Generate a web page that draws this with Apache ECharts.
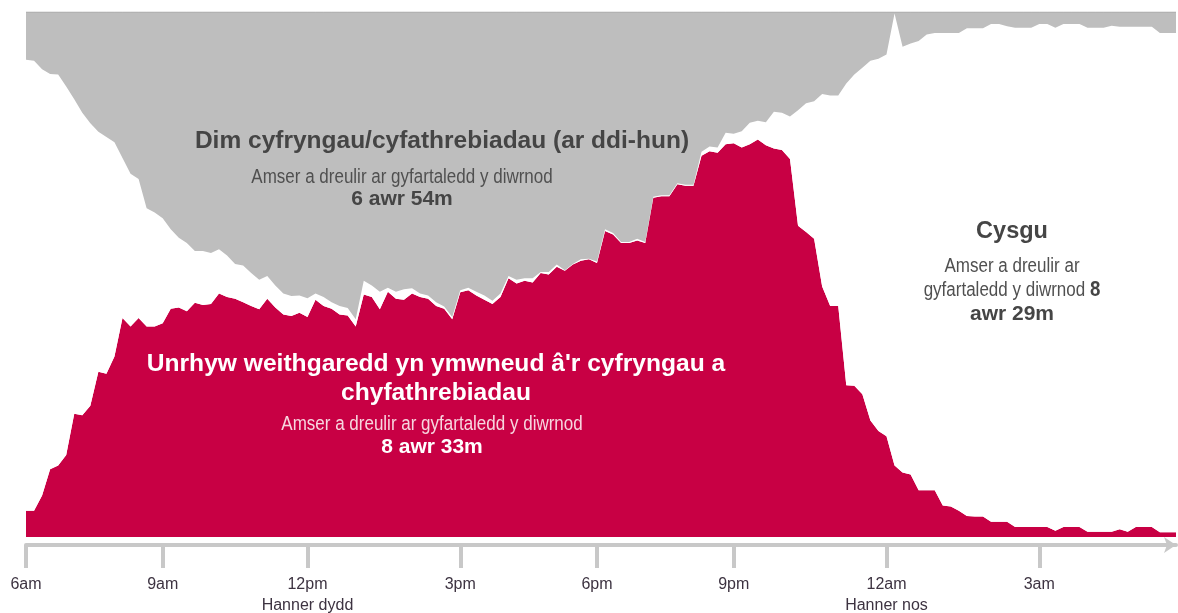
<!DOCTYPE html>
<html>
<head>
<meta charset="utf-8">
<title>Diwrnod cyfryngau</title>
<script src="https://cdn.jsdelivr.net/npm/echarts@6/dist/echarts.min.js"></script>
<style>
  html, body { margin: 0; padding: 0; background: #fff; }
  #chart { width: 1178px; height: 613px; }
</style>
</head>
<body>
<div id="chart"></div>
<script>
// share of people (%) in each 10-minute slot, starting 6am
let media = [
  5.0, 5.0, 7.9, 12.9, 13.6, 15.6, 23.5, 23.2, 25.0, 31.5, 31.1, 34.4,
  41.7, 40.1, 41.7, 40.1, 40.1, 40.7, 43.5, 43.7, 43.0, 44.6, 44.2, 44.4,
  46.4, 45.7, 45.4, 44.7, 44.0, 43.4, 45.4, 43.7, 42.4, 42.1, 42.7, 41.9,
  45.2, 44.0, 43.5, 42.4, 42.2, 40.1, 46.2, 45.7, 43.4, 46.7, 45.4, 45.2,
  46.4, 45.7, 45.4, 44.0, 43.5, 41.5, 46.6, 47.0, 46.0, 45.2, 44.4, 45.7,
  49.3, 48.3, 48.8, 48.5, 50.3, 50.0, 51.5, 50.7, 51.9, 52.6, 52.9, 52.2,
  58.3, 57.6, 56.0, 56.0, 56.5, 56.0, 64.6, 64.9, 64.9, 67.2, 66.9, 66.9,
  72.6, 73.5, 73.2, 74.8, 75.0, 74.2, 74.8, 75.7, 74.6, 74.0, 73.7, 72.0,
  59.3, 58.1, 56.8, 47.7, 44.0, 44.0, 28.9, 28.8, 27.2, 22.2, 20.2, 19.2,
  13.6, 12.3, 11.9, 8.9, 8.9, 8.9, 6.0, 5.8, 5.0, 4.0, 3.9, 3.9,
  2.9, 2.9, 2.9, 1.9, 1.9, 1.9, 1.9, 1.9, 1.2, 1.9, 1.9, 1.9,
  1.0, 1.0, 1.0, 1.0, 1.5, 1.0, 1.9, 1.9, 1.9, 0.9, 0.9, 0.9
];
let sleep = [
  85.9, 85.7, 81.2, 75.3, 74.5, 70.2, 59.9, 57.6, 53.8, 45.7, 45.1, 40.8,
  30.5, 29.1, 26.5, 22.5, 21.7, 20.0, 15.1, 13.3, 13.0, 9.9, 10.3, 9.7,
  8.4, 7.9, 6.6, 7.0, 6.3, 5.6, 4.3, 4.2, 4.0, 3.8, 3.3, 3.6,
  1.2, 1.7, 1.2, 1.6, 1.4, 1.4, 2.6, 2.2, 3.3, 0.8, 1.3, 2.0,
  1.0, 0.7, 0.6, 0.7, 0.4, 0.4, 0.4, 0.5, 0.7, 0.8, 0.6, 0.7,
  0.4, 0.7, 0.5, 0.8, 0.2, 0.5, 0.4, 0.1, 0.1, 0.3, 0.1, 0.3,
  0.3, 0.3, 0.2, 0.2, 0.3, 0.2, 0.2, 0.2, 0.2, 0.2, 0.2, 0.2,
  0.8, 0.9, 1.0, 2.2, 1.8, 3.1, 4.1, 3.6, 4.4, 7.0, 7.1, 8.1,
  22.0, 24.5, 26.2, 36.7, 40.1, 40.1, 57.5, 59.3, 62.2, 68.5, 70.9, 72.7,
  86.1, 81.1, 82.1, 85.6, 86.8, 87.1, 90.0, 90.2, 91.0, 92.9, 93.0, 93.0,
  94.8, 94.8, 94.4, 95.1, 95.1, 95.1, 95.8, 95.8, 95.8, 95.8, 95.8, 95.8,
  96.0, 96.0, 96.0, 96.4, 95.7, 96.2, 95.3, 95.3, 95.3, 95.1, 95.1, 95.1
];
let noMedia = [
  9.1, 9.3, 10.9, 11.8, 11.9, 14.2, 16.6, 19.2, 21.2, 22.8, 23.8, 24.8,
  27.8, 30.8, 31.8, 37.4, 38.2, 39.3, 41.4, 43.0, 44.0, 45.5, 45.5, 45.9,
  45.2, 46.4, 48.0, 48.3, 49.7, 51.0, 50.3, 52.1, 53.6, 54.1, 54.0, 54.5,
  53.6, 54.3, 55.3, 56.0, 56.4, 58.5, 51.2, 52.1, 53.3, 52.5, 53.3, 52.8,
  52.6, 53.6, 54.0, 55.3, 56.1, 58.1, 53.0, 52.5, 53.3, 54.0, 55.0, 53.6,
  50.3, 51.0, 50.7, 50.7, 49.5, 49.5, 48.1, 49.2, 48.0, 47.1, 47.0, 47.5,
  41.4, 42.1, 43.8, 43.8, 43.2, 43.8, 35.2, 34.9, 34.9, 32.6, 32.9, 32.9,
  26.6, 25.6, 25.8, 23.0, 23.2, 22.7, 21.1, 20.7, 21.0, 19.0, 19.2, 19.9,
  18.7, 17.4, 17.0, 15.6, 15.9, 15.9, 13.6, 11.9, 10.6, 9.3, 8.9, 8.1,
  0.3, 6.6, 6.0, 5.5, 4.3, 4.0, 4.0, 4.0, 4.0, 3.1, 3.1, 3.1,
  2.3, 2.3, 2.7, 3.0, 3.0, 3.0, 2.3, 2.3, 3.0, 2.3, 2.3, 2.3,
  3.0, 3.0, 3.0, 2.6, 2.8, 2.8, 2.8, 2.8, 2.8, 4.0, 4.0, 4.0
];

// time slots (10 minutes each, from 6am) used as categories
let slots = [];
for (let m = 0; m < media.length * 10; m += 10) {
  let h = (6 + Math.floor(m / 60)) % 24;
  slots.push(String(h).padStart(2, '0') + ':' + String(m % 60).padStart(2, '0'));
}

// slot index where the original puts each tick
let tickIdx = [0, 17, 35, 54, 71, 88, 107, 126];
let tickLabels = ['6am', '9am', '12pm', '3pm', '6pm', '9pm', '12am', '3am'];
let tickSub = ['', '', 'Hanner dydd', '', '', '', 'Hanner nos', ''];

let RED = '#c80044';
let GREY = '#bebebe';
let SANS = "'Liberation Sans', Arial, sans-serif";

function note(x, y, text, font, color, squeeze, rich) {
  let style = {
    text: text, font: font, fill: color,
    align: 'center', verticalAlign: 'middle',
    textAlign: 'center', textVerticalAlign: 'middle'
  };
  if (rich) style.rich = rich;
  return { type: 'text', x: x, y: y, scaleX: squeeze || 1, silent: true, z: 100, style: style };
}

let chart = echarts.init(document.getElementById('chart'));

let option = {
  animation: false,
  grid: { left: 26, right: 2, top: 12, bottom: 76, containLabel: false, outerBoundsMode: 'none' },
  xAxis: {
    type: 'category',
    data: slots,
    boundaryGap: false,
    offset: 8,
    z: 5,
    splitLine: { show: false },
    axisLine: {
      show: true,
      onZero: false,
      lineStyle: { color: '#c8c8c8', width: 4 },
      symbol: ['none', 'arrow'],
      symbolSize: [12, 12]
    },
    axisTick: {
      show: true,
      interval: function (index) { return tickIdx.indexOf(index) >= 0; },
      length: 23,
      lineStyle: { color: '#c8c8c8', width: 4 }
    },
    axisLabel: {
      interval: function (index) { return tickIdx.indexOf(index) >= 0; },
      margin: 29,
      color: '#3d3341',
      fontFamily: SANS,
      fontSize: 16,
      lineHeight: 21,
      formatter: function (value, index) {
        let k = tickIdx.indexOf(index);
        if (k < 0) return '';
        return tickSub[k] ? tickLabels[k] + '\n' + tickSub[k] : tickLabels[k];
      }
    }
  },
  yAxis: { type: 'value', min: 0, max: 100, show: false },
  series: [
    {
      name: 'media', type: 'line', stack: 'day', data: media,
      symbol: 'none', silent: true,
      lineStyle: { width: 0 },
      areaStyle: { color: RED, opacity: 1 }
    },
    {
      name: 'sleep', type: 'line', stack: 'day', data: sleep,
      symbol: 'none', silent: true,
      lineStyle: { width: 0 },
      areaStyle: { color: '#ffffff', opacity: 1 }
    },
    {
      name: 'noMedia', type: 'line', stack: 'day', data: noMedia,
      symbol: 'none', silent: true,
      lineStyle: { width: 1, color: '#a6a6a6' },
      areaStyle: { color: GREY, opacity: 1 }
    }
  ],
  graphic: [
    note(442, 141, 'Dim cyfryngau/cyfathrebiadau (ar ddi-hun)', 'bold 24.5px ' + SANS, '#454545'),
    note(402, 177, 'Amser a dreulir ar gyfartaledd y diwrnod', '20px ' + SANS, '#505050', 0.85),
    note(402, 199, '6 awr 54m', 'bold 21px ' + SANS, '#454545'),

    note(436, 364, "Unrhyw weithgaredd yn ymwneud â'r cyfryngau a", 'bold 24.6px ' + SANS, '#ffffff'),
    note(436, 393, 'chyfathrebiadau', 'bold 24.6px ' + SANS, '#ffffff'),
    note(432, 424, 'Amser a dreulir ar gyfartaledd y diwrnod', '20px ' + SANS, '#f7d6df', 0.85),
    note(432, 447, '8 awr 33m', 'bold 21px ' + SANS, '#ffffff'),

    note(1012, 232, 'Cysgu', 'bold 23.5px ' + SANS, '#454545'),
    note(1012, 266, 'Amser a dreulir ar', '20px ' + SANS, '#505050', 0.85),
    note(1012, 290, 'gyfartaledd y diwrnod {b|8}', '20px ' + SANS, '#505050', 0.85, {
      b: { font: 'bold 22px ' + SANS, fill: '#454545', color: '#454545' }
    }),
    note(1012, 314, 'awr 29m', 'bold 21px ' + SANS, '#454545')
  ]
};

chart.setOption(option);
window.onresize = function () { chart.resize(); };
</script>
</body>
</html>
